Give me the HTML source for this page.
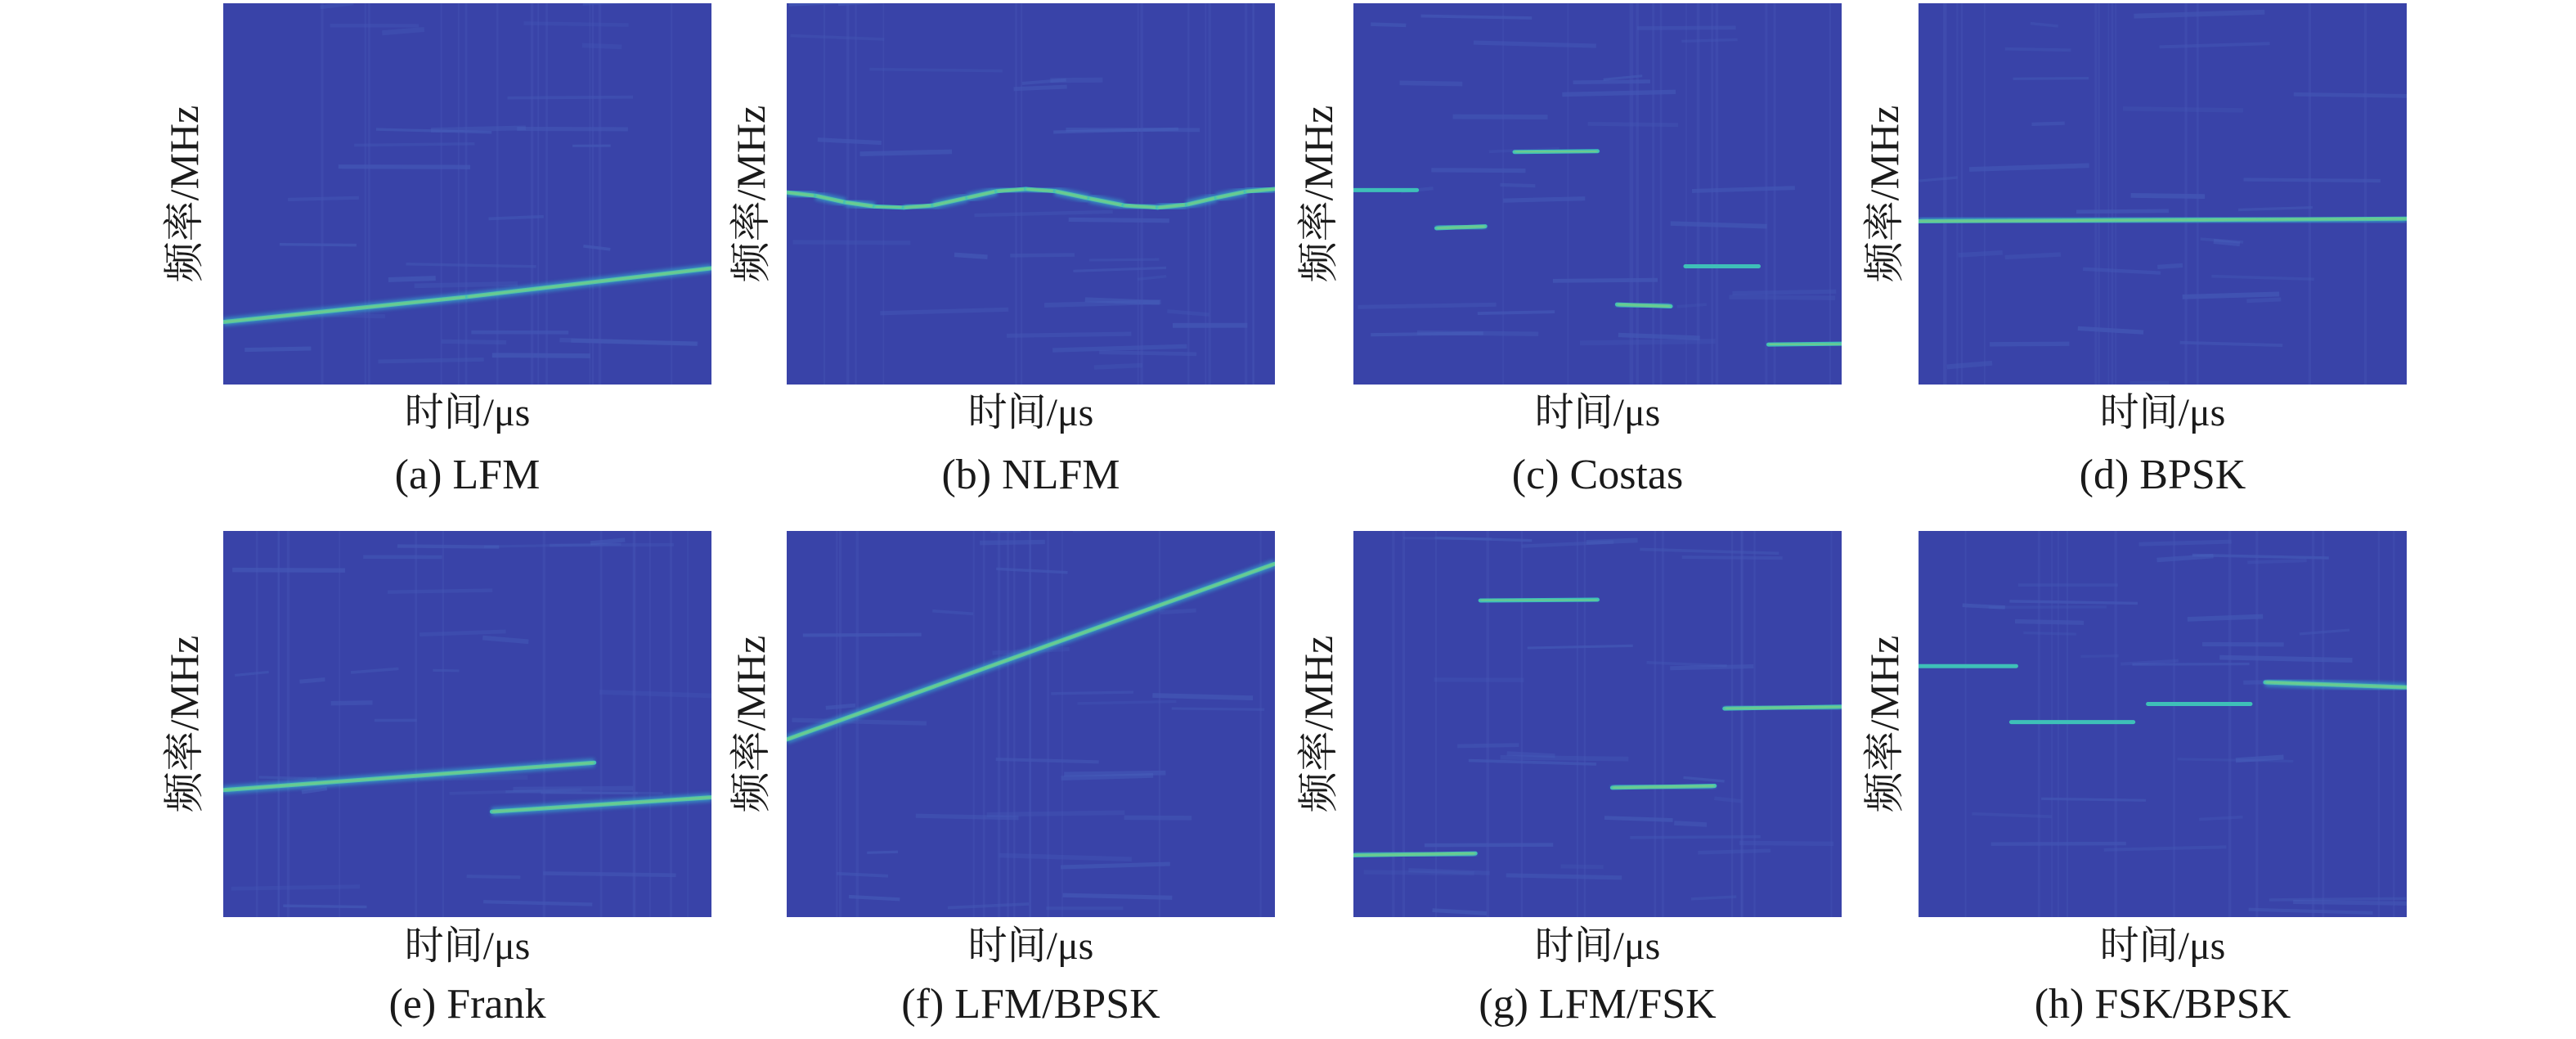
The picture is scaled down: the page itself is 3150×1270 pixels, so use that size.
<!DOCTYPE html>
<html><head><meta charset="utf-8"><style>
html,body{margin:0;padding:0;background:#fff;}
svg{display:block;}
text{font-family:"Liberation Serif","Noto Serif CJK SC",serif;fill:#1a1a1a;}
</style></head><body>
<svg id="fig" width="3150" height="1270" viewBox="0 0 3150 1270" xmlns="http://www.w3.org/2000/svg">
<defs id="defs">
<filter id="glow" x="-10%" y="-50%" width="120%" height="200%"><feGaussianBlur stdDeviation="2.5"/></filter>
<filter id="soft" x="-10%" y="-50%" width="120%" height="200%"><feGaussianBlur stdDeviation="1.2"/></filter>
</defs>
</svg>
<script>
// panel titles
const captions = ["(a) LFM","(b) NLFM","(c) Costas","(d) BPSK","(e) Frank","(f) LFM/BPSK","(g) LFM/FSK","(h) FSK/BPSK"];
// each panel: segments [t0, t1, y0, y1] with t in 0..1 (time) and y in 0..1 (fraction from top)
const segA = [[0,0.5,0.836,0.77],[0.5,1,0.77,0.695]];
const segB = [[0,0.06,0.496,0.505],[0.06,0.12,0.505,0.522],[0.12,0.18,0.522,0.533],[0.18,0.24,0.533,0.536],[0.24,0.30,0.536,0.53],[0.30,0.37,0.53,0.51],[0.37,0.43,0.51,0.493],[0.43,0.49,0.493,0.487],[0.49,0.55,0.487,0.493],[0.55,0.62,0.493,0.512],[0.62,0.69,0.512,0.53],[0.69,0.76,0.53,0.536],[0.76,0.82,0.536,0.528],[0.82,0.88,0.528,0.51],[0.88,0.94,0.51,0.494],[0.94,1,0.494,0.487]];
const segC = [[0,0.13,0.49,0.49],[0.17,0.27,0.59,0.585],[0.33,0.5,0.39,0.388],[0.54,0.65,0.79,0.795],[0.68,0.83,0.69,0.69],[0.85,1,0.895,0.893]];
const segD = [[0,1,0.572,0.565]];
const segE = [[0,0.76,0.671,0.6],[0.55,1,0.727,0.69]];
const segF = [[0,1,0.54,0.085]];
const segG = [[0,0.25,0.84,0.835],[0.26,0.5,0.18,0.178],[0.53,0.74,0.665,0.66],[0.76,1,0.46,0.455]];
const segH = [[0,0.2,0.35,0.35],[0.19,0.44,0.495,0.495],[0.47,0.68,0.448,0.448],[0.71,1,0.392,0.405]];
const allSegs = [segA,segB,segC,segD,segE,segF,segG,segH];

const NS="http://www.w3.org/2000/svg";
const svg=document.getElementById('fig');
const defs=document.getElementById('defs');
const colX=[273,962,1655,2346], panW=597;
const rowY=[4,649], panH=[466,472];
const ylabX=[225,918,1612,2304];
const xlabY=[520,1172], capY=[597,1244];

function mk(tag,attrs,parent){const e=document.createElementNS(NS,tag);for(const k in attrs)e.setAttribute(k,attrs[k]);(parent||svg).appendChild(e);return e;}
let seed=7;function rnd(){seed=(seed*16807)%2147483647;return seed/2147483647;}

for(let i=0;i<8;i++){
  const r=Math.floor(i/4), c=i%4;
  const x0=colX[c], y0=rowY[r], w=panW, h=panH[r];
  const xs=t=>x0+t*w, ys=f=>y0+f*h;
  const cp0=mk('clipPath',{id:'clip'+i},defs);
  mk('rect',{x:x0,y:y0,width:w,height:h},cp0);
  const g=mk('g',{});
  
  
  const pg=mk('g',{'clip-path':'url(#clip'+i+')'},g);
  const bg=mk('rect',{x:x0,y:y0,width:w,height:h,fill:'#3943a8'},pg);
  
  
  // faint texture streaks (decorative)
  for(let k=0;k<28;k++){
    const yy=y0+rnd()*h, xx=x0+rnd()*w*0.8, ll=30+rnd()*140;
    mk('line',{x1:xx,y1:yy,x2:Math.min(x0+w,xx+ll),y2:yy+(rnd()-0.5)*10,stroke:'#4a66c0','stroke-width':3+rnd()*3,opacity:0.2+rnd()*0.25},pg);
  }
  for(let k=0;k<14;k++){
    const xx=x0+rnd()*w;
    mk('line',{x1:xx,y1:y0,x2:xx,y2:y0+h,stroke:'#4656b6','stroke-width':1.5+rnd()*2,opacity:0.4},pg);
  }
  const segs=allSegs[i];
  segs.forEach((s,j)=>{
    const a={x1:xs(s[0]),y1:ys(s[2]),x2:xs(s[1]),y2:ys(s[3])};
    mk('line',Object.assign({stroke:'#36a6d0','stroke-width':10,opacity:0.7,filter:'url(#glow)'},a),pg);
    const l=mk('line',Object.assign({stroke:'#3ec0b8','stroke-width':5,'stroke-linecap':'round'},a),pg);
    
    
    mk('line',Object.assign({stroke:'#a8d85a','stroke-width':2,opacity:0.8,filter:'url(#soft)'},a),pg);
  });
  const yl=mk('text',{x:0,y:0,'font-size':50,'text-anchor':'middle','dominant-baseline':'central',transform:`translate(${ylabX[c]},${y0+h/2}) rotate(-90)`},g);
  yl.textContent='频率/MHz';
  
  
  const xl=mk('text',{x:x0+w/2,y:xlabY[r],'font-size':48,'text-anchor':'middle'},g);
  xl.textContent='时间/μs';
  
  
  const cp=mk('text',{x:x0+w/2,y:capY[r],'font-size':52,'text-anchor':'middle'},g);
  cp.textContent=captions[i];
  
  
}
</script>
</body></html>
